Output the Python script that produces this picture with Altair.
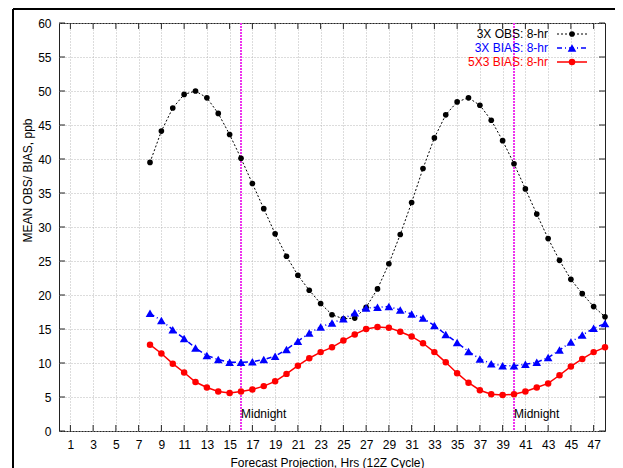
import altair as alt
import pandas as pd

# ---------------- data ----------------
hours = list(range(8, 49))
obs_3x = [39.5, 44.1, 47.5, 49.5, 50.0, 49.0, 46.7, 43.6, 40.1, 36.4,
          32.7, 29.0, 25.7, 22.9, 20.7, 18.75, 17.1, 16.5, 16.6, 18.2,
          20.9, 24.6, 28.9, 33.6, 38.6, 43.1, 46.5, 48.4, 49.0, 47.9,
          45.7, 42.7, 39.3, 35.6, 31.9, 28.3, 25.1, 22.3, 20.2, 18.3, 16.8]
bias_3x = [17.3, 16.25, 14.9, 13.6, 12.2, 11.1, 10.5, 10.1, 10.1, 10.2,
           10.5, 11.0, 12.0, 13.2, 14.4, 15.3, 15.9, 16.5, 17.4, 18.1,
           18.2, 18.3, 17.8, 17.2, 16.6, 15.5, 14.2, 13.0, 11.7, 10.6,
           9.9, 9.6, 9.6, 9.8, 10.1, 10.8, 11.9, 13.1, 14.1, 15.1, 15.8]
bias_5x3 = [12.7, 11.4, 9.9, 8.6, 7.2, 6.4, 5.8, 5.6, 5.8, 6.1,
            6.6, 7.3, 8.4, 9.6, 10.7, 11.6, 12.3, 13.3, 14.2, 15.0,
            15.3, 15.2, 14.6, 13.9, 12.9, 11.6, 10.1, 8.5, 7.1, 6.0,
            5.4, 5.3, 5.4, 5.8, 6.4, 7.0, 8.2, 9.5, 10.6, 11.6, 12.3]
series_names = ["3X OBS: 8-hr", "3X BIAS: 8-hr", "5X3 BIAS: 8-hr"]
x_ticks = list(range(1, 48, 2))
y_ticks = list(range(0, 61, 5))
midnight_hours = [16, 40]
midnight_label = "Midnight"
x_title = "Forecast Projection, Hrs (12Z Cycle)"
y_title = "MEAN OBS/ BIAS, ppb"

# ---------------- layout ----------------
W, H = 546, 408
FONT = "Liberation Sans"

obs_df = pd.DataFrame({"hour": hours, "value": obs_3x})
b3_df = pd.DataFrame({"hour": hours, "value": bias_3x})
b53_df = pd.DataFrame({"hour": hours, "value": bias_5x3})
xt_df = pd.DataFrame({"t": x_ticks})
yt_df = pd.DataFrame({"t": y_ticks})
mid_df = pd.DataFrame({"m": midnight_hours})
one = pd.DataFrame({"k": [0]})

xs = alt.Scale(domain=[0, 48], nice=False, zero=False)
ys = alt.Scale(domain=[0, 60], nice=False)

xaxis = alt.Axis(values=x_ticks, title=x_title, grid=True, gridDash=[1, 2],
                 gridColor="#b8b8b8", gridWidth=1, tickSize=0, domain=False,
                 labelFont=FONT, labelFontSize=12, labelColor="black",
                 labelPadding=8, titleFont=FONT, titleFontSize=12,
                 titleFontWeight="normal", titleColor="black",
                 titleX=268, titleY=26, titleBaseline="top",
                 titleAlign="center", labelFlush=False)
yaxis = alt.Axis(values=y_ticks, title=y_title, grid=True, gridDash=[1, 2],
                 gridColor="#b8b8b8", gridWidth=1, tickSize=0, domain=False,
                 labelFont=FONT, labelFontSize=12, labelColor="black",
                 labelPadding=8, titleFont=FONT, titleFontSize=12,
                 titleFontWeight="normal", titleColor="black",
                 titleX=-32, titleY=157, titleAlign="center",
                 titleBaseline="middle", labelFlush=False)


def X(field):
    return alt.X(field, type="quantitative", scale=xs, axis=xaxis)


def Y(field):
    return alt.Y(field, type="quantitative", scale=ys, axis=yaxis)


# inward ticks on all four sides
tick_b = alt.Chart(xt_df).mark_rule(color="#222", strokeWidth=1).encode(
    x=X("t"), y=alt.value(H), y2=alt.value(H - 6))
tick_t = alt.Chart(xt_df).mark_rule(color="#222", strokeWidth=1).encode(
    x=X("t"), y=alt.value(0), y2=alt.value(6))
tick_l = alt.Chart(yt_df).mark_rule(color="#222", strokeWidth=1).encode(
    y=Y("t"), x=alt.value(0), x2=alt.value(6))
tick_r = alt.Chart(yt_df).mark_rule(color="#222", strokeWidth=1).encode(
    y=Y("t"), x=alt.value(W), x2=alt.value(W - 6))

# midnight markers
mid_rule = alt.Chart(mid_df).mark_rule(color="#ee33ee", strokeWidth=2,
                                       strokeDash=[2, 1]).encode(
    x=X("m"), y=alt.value(0), y2=alt.value(H))
mid_text = alt.Chart(mid_df).mark_text(text=midnight_label, align="left",
                                       baseline="middle", font=FONT,
                                       fontSize=12, color="black").encode(
    x=X("m"), y=alt.value(391))

# series
obs_line = alt.Chart(obs_df).mark_line(color="black", strokeWidth=1,
                                       strokeDash=[2, 2]).encode(
    x=X("hour"), y=Y("value"))
obs_pts = alt.Chart(obs_df).mark_point(filled=True, shape="circle", size=32,
                                       color="black", opacity=1).encode(
    x=X("hour"), y=Y("value"))
b3_line = alt.Chart(b3_df).mark_line(color="#0000ff", strokeWidth=1.5,
                                     strokeDash=[5, 3, 1, 3]).encode(
    x=X("hour"), y=Y("value"))
b3_pts = alt.Chart(b3_df).mark_point(filled=True, shape="triangle-up", size=75,
                                     color="#0000ff", opacity=1).encode(
    x=X("hour"), y=Y("value"))
b53_line = alt.Chart(b53_df).mark_line(color="#ff0000", strokeWidth=1.5).encode(
    x=X("hour"), y=Y("value"))
b53_pts = alt.Chart(b53_df).mark_point(filled=True, shape="circle", size=42,
                                       color="#ff0000", opacity=1).encode(
    x=X("hour"), y=Y("value"))

# legend (gnuplot style: text, then sample)
leg_rows = [(series_names[0], "black", [2, 2], 1, "circle", 32, 11),
            (series_names[1], "#0000ff", [5, 3, 1, 3], 1.5, "triangle-up", 75, 25),
            (series_names[2], "#ff0000", [1, 0], 1.5, "circle", 42, 39)]
legend_layers = []
for name, col, dash, sw, shp, sz, yy in leg_rows:
    legend_layers.append(alt.Chart(one).mark_text(
        text=name, align="right", baseline="middle", font=FONT, fontSize=12,
        color=col).encode(x=alt.value(489), y=alt.value(yy)))
    legend_layers.append(alt.Chart(one).mark_rule(
        color=col, strokeWidth=sw, strokeDash=dash).encode(
        x=alt.value(498), x2=alt.value(528), y=alt.value(yy)))
    legend_layers.append(alt.Chart(one).mark_point(
        filled=True, shape=shp, size=sz, color=col, opacity=1).encode(
        x=alt.value(513), y=alt.value(yy)))

# outer frame of the picture (top and left)
frame_top = alt.Chart(one).mark_rule(color="black", strokeWidth=2).encode(
    x=alt.value(-46), x2=alt.value(W + 20), y=alt.value(-14))
frame_left = alt.Chart(one).mark_rule(color="black", strokeWidth=2).encode(
    x=alt.value(-46), y=alt.value(-14), y2=alt.value(H + 40))

chart = alt.layer(
    mid_rule, tick_b, tick_t, tick_l, tick_r,
    obs_line, b3_line, b53_line, obs_pts, b3_pts, b53_pts, mid_text,
    *legend_layers, frame_top, frame_left
).properties(
    width=W, height=H,
    padding={"left": 51, "top": 15, "right": 10, "bottom": 37},
    autosize="none", background="white"
).configure_view(stroke="#222", strokeWidth=1)

chart.save("out.html", embed_options={"renderer": "svg", "actions": False})
